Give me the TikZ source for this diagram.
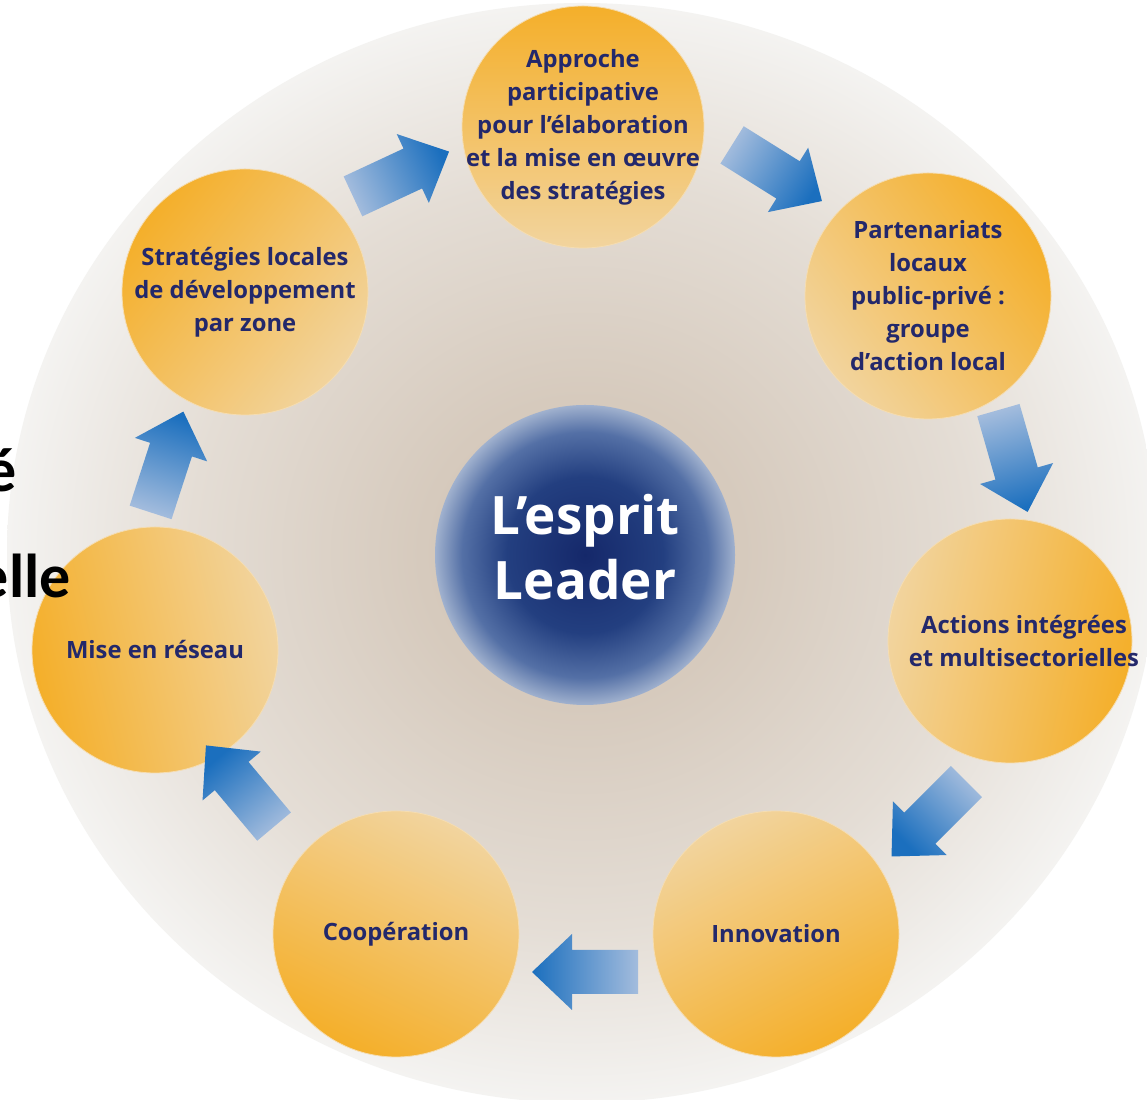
\documentclass[tikz,border=0pt]{standalone}
\usepackage{fontspec}
\setmainfont{Open Sans}
\newfontfamily\calibri{Carlito}
\usetikzlibrary{calc}
\definecolor{labelblue}{HTML}{23286B}
\definecolor{orsat}{HTML}{F4AF2A}
\definecolor{orlight}{HTML}{F2D49E}
\definecolor{orrim}{HTML}{F5DDB2}
\definecolor{arrlight}{HTML}{A3BCDD}
\definecolor{arrdark}{HTML}{1B6FBE}
\definecolor{bgA}{HTML}{CDBFB1}
\definecolor{bgB}{HTML}{D6CABD}
\definecolor{bgC}{HTML}{E4DDD5}
\definecolor{bgD}{HTML}{F4F3F1}
\definecolor{blA}{HTML}{15286A}
\definecolor{blB}{HTML}{233F80}
\definecolor{blC}{HTML}{5470A6}
\definecolor{blD}{HTML}{A0B1CE}
\pgfdeclareradialshading{bgshade}{\pgfpointorigin}{color(0bp)=(bgA); color(7bp)=(bgB); color(17bp)=(bgC); color(25bp)=(bgD); color(50bp)=(bgD)}
\pgfdeclareradialshading{leadershade}{\pgfpointorigin}{color(0bp)=(blA); color(13bp)=(blB); color(20.5bp)=(blC); color(25bp)=(blD); color(50bp)=(blD)}
\newcommand{\flowarrow}[2]{%
  \pgfmathsetmacro\arrshang{#2-90}%
  \shade[top color=arrdark, bottom color=arrlight, shading angle=\arrshang]
    ($(#1)+(#2+180:53)+(#2+90:22)$) -- ($(#1)+(#2:13)+(#2+90:22)$) --
    ($(#1)+(#2:13)+(#2+90:38)$) -- ($(#1)+(#2:53)$) --
    ($(#1)+(#2:13)+(#2-90:38)$) -- ($(#1)+(#2:13)+(#2-90:22)$) --
    ($(#1)+(#2+180:53)+(#2-90:22)$) -- cycle;}
\begin{document}
\begin{tikzpicture}[x=1pt,y=1pt,
  stage/.style={circle, minimum size=246pt, inner sep=0pt,
    draw=orrim, line width=0.8pt, top color=orsat, bottom color=orlight},
  stagetext/.style={inner sep=0pt, align=center, text=labelblue,
    font=\bfseries\fontsize{23.8}{33}\selectfont},
  frag/.style={anchor=base east, inner sep=0pt, text=black,
    font=\calibri\bfseries\fontsize{62}{62}\selectfont}]
\useasboundingbox (0,0) rectangle (1147,1099);
\fill[white] (0,0) rectangle (1147,1099);
\clip (0,0) rectangle (1147,1099);
\shade[shading=bgshade] (582,546) ellipse [x radius=575pt, y radius=550pt];

\node[circle, minimum size=300pt, inner sep=0pt, shade, shading=leadershade]
  (esprit) at (585,544) {};
\node[inner sep=0pt, text=white, align=center, font=\bfseries\fontsize{53}{65}\selectfont]
  (espritlabel) at (585,552) {L’esprit\\Leader};

\node[stage, minimum size=242pt, shading angle=0]   (appr) at (583,972) {};
\node[stage, shading angle=-53]                       (part) at (928,803) {};
\node[stage, minimum size=244pt, shading angle=-102]  (acti) at (1010,458) {};
\node[stage, shading angle=-153]                      (inno) at (776,165) {};
\node[stage, shading angle=154]                       (coop) at (396,165) {};
\node[stage, shading angle=103]                       (mise) at (155,449) {};
\node[stage, shading angle=52]                        (stra) at (245,807) {};

\node[stagetext] (apprtext) at (appr.center) {Approche\\participative\\pour l’élaboration\\et la mise en œuvre\\des stratégies};
\node[stagetext] (parttext) at (part.center) {Partenariats\\locaux\\public-privé :\\groupe\\d’action local};
\node[stagetext] (actitext) at ([xshift=14pt]acti.center) {Actions intégrées\\et multisectorielles};
\node[stagetext] (innotext) at (inno.center) {Innovation};
\node[stagetext] (cooptext) at (coop.center) {Coopération};
\node[stagetext] (misetext) at (mise.center) {Mise en réseau};
\node[stagetext] (stratext) at (stra.center) {Stratégies locales\\de développement\\par zone};

\coordinate (a1) at (401,925);
\coordinate (a2) at (777,926);
\coordinate (a3) at (1013,638);
\coordinate (a4) at (929,280);
\coordinate (a5) at (585,127);
\coordinate (a6) at (240,313);
\coordinate (a7) at (167,637);
\flowarrow{a1}{25}
\flowarrow{a2}{-32}
\flowarrow{a3}{-74}
\flowarrow{a4}{-135}
\flowarrow{a5}{180}
\flowarrow{a6}{130}
\flowarrow{a7}{72}

\node[frag] (fragA) at (17,607) {é};
\node[frag] (fragB) at (71,501) {elle};
\end{tikzpicture}
\end{document}
